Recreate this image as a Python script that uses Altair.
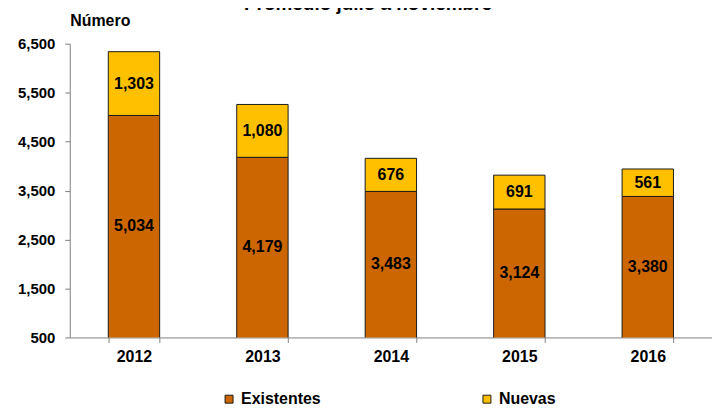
import altair as alt
import pandas as pd

years = ["2012", "2013", "2014", "2015", "2016"]
existentes = [5034, 4179, 3483, 3124, 3380]
nuevas = [1303, 1080, 676, 691, 561]
series = ["Existentes", "Nuevas"]
colors = ["#CC6600", "#FFC000"]
y_ticks = [500, 1500, 2500, 3500, 4500, 5500, 6500]
y_min, y_max = 500, 6500

rows = []
for yr, e, n in zip(years, existentes, nuevas):
    rows.append(dict(year=yr, serie="Existentes", order=0, value=e, y0=0, y1=e))
    rows.append(dict(year=yr, serie="Nuevas", order=1, value=n, y0=e, y1=e + n))
df = pd.DataFrame(rows)
df["mid"] = (df["y0"].clip(lower=y_min) + df["y1"]) / 2

FONT = "Liberation Sans"

x_axis = alt.Axis(
    labelAngle=0, labelFont=FONT, labelFontSize=16, labelFontWeight="bold",
    labelColor="black", labelPadding=6, tickBand="extent", tickSize=5,
    tickColor="#808080", domainColor="#808080",
)
x_scale = alt.Scale(paddingInner=0.6, paddingOuter=0.3)
y_axis = alt.Axis(
    values=y_ticks, format=",.0f", grid=False, title="Número",
    titleAngle=0, titleAlign="left", titleBaseline="middle", titleX=0, titleY=-23,
    titleFont=FONT, titleFontSize=16, titleFontWeight="bold", titleColor="black",
    labelFont=FONT, labelFontSize=15, labelFontWeight="bold", labelColor="black",
    labelPadding=10, tickSize=5, tickColor="#808080", domainColor="#808080",
)
y_scale = alt.Scale(domain=[y_min, y_max], nice=False, zero=False)

bars = alt.Chart(df).mark_bar(stroke="#1a1a1a", strokeWidth=1, clip=True).encode(
    x=alt.X("year:N", title=None, scale=x_scale, axis=x_axis),
    y=alt.Y("y0:Q", scale=y_scale, axis=y_axis),
    y2="y1:Q",
    color=alt.Color(
        "serie:N",
        scale=alt.Scale(domain=series, range=colors),
        legend=alt.Legend(
            title=None, orient="none", direction="horizontal", legendX=152, legendY=349,
            symbolType="square", symbolSize=64, symbolStrokeColor="#1a1a1a",
            symbolStrokeWidth=1, symbolOpacity=1, labelFont=FONT, labelFontSize=16,
            labelFontWeight="bold", labelColor="black", columnPadding=158, padding=0,
            labelOffset=4,
        ),
    ),
    order=alt.Order("order:Q"),
)

labels = alt.Chart(df).mark_text(
    font=FONT, fontSize=16, fontWeight="bold", color="black", baseline="middle"
).encode(
    x=alt.X("year:N", title=None, scale=x_scale, axis=x_axis),
    y=alt.Y("mid:Q", scale=y_scale, axis=y_axis),
    text=alt.Text("value:Q", format=","),
)

chart = (
    alt.layer(bars, labels)
    .properties(
        width=645,
        height=295,
        title=alt.TitleParams(
            "Promedio julio a noviembre", font=FONT, fontSize=19, fontWeight="bold",
            color="black", anchor="middle", dx=-23, offset=-1,
        ),
        autosize=alt.AutoSizeParams(type="none"),
        padding={"left": 62, "top": 35, "right": 0, "bottom": 71},
    )
    .configure_view(stroke=None)
)

chart.save("out.html", embed_options={"renderer": "svg", "actions": False})
